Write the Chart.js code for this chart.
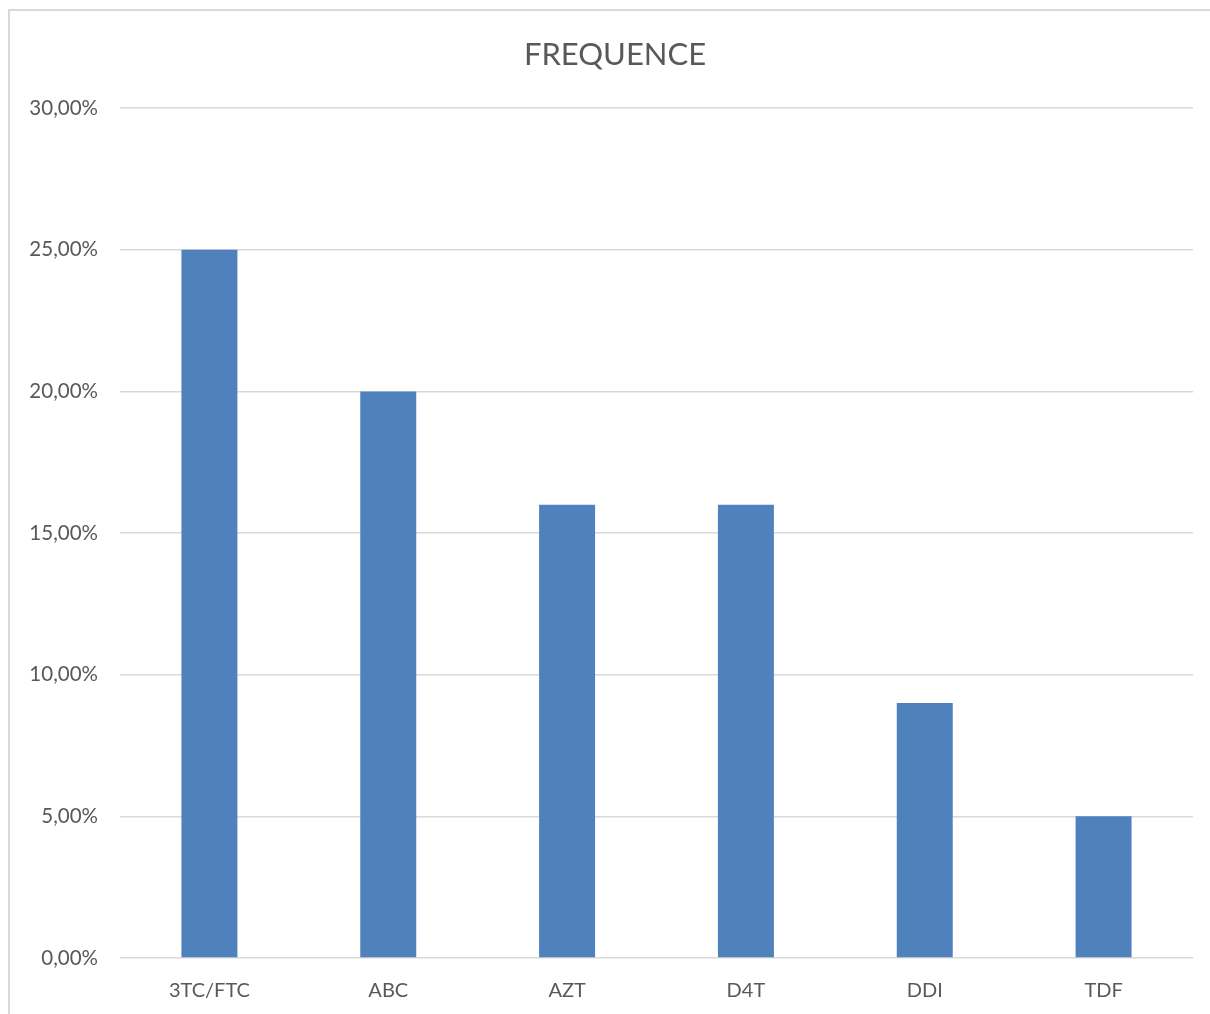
<!DOCTYPE html>
<html>
<head>
<meta charset="utf-8">
<script src="https://cdn.jsdelivr.net/npm/chart.js@4.4.1/dist/chart.umd.min.js"></script>
<style>
    body { margin: 0; background: #fff; }
    #frame {
        position: absolute; left: 8px; top: 9px;
        width: 1210px; height: 1014px;
        border: 2px solid #d9d9d9;
    }
    #wrap { position: absolute; left: 0; top: 0; width: 1210px; height: 1014px; }
</style>
</head>
<body>
<div id="frame"></div>
<div id="wrap"><canvas id="chart" width="1210" height="1014"></canvas></div>
<script>
// 分類與數值（百分比）
const categories = ["3TC/FTC", "ABC", "AZT", "D4T", "DDI", "TDF"];
const frequence = [25, 20, 16, 16, 9, 5];
const yTicks = [0, 5, 10, 15, 20, 25, 30];

const textColor = "#595959";
const gridColor = "#d9d9d9";
const fontFamily = "Lato, 'Liberation Sans', sans-serif";

// 數字用逗號當小數點，例如 25,00%
function formatPercent(value) {
    return value.toFixed(2).replace(".", ",") + "%";
}

// 標題置中在整個外框，而不是只在圖表區
const centerTitle = {
    id: "centerTitle",
    afterLayout(chart) {
        chart.titleBlock.left = 0;
        chart.titleBlock.right = 1230;
    }
};

new Chart(document.getElementById("chart"), {
    type: "bar",
    data: {
        labels: categories,
        datasets: [{
            label: "FREQUENCE",
            data: frequence,
            backgroundColor: "#4F81BD",
            categoryPercentage: 1,
            barPercentage: 0.313
        }]
    },
    plugins: [centerTitle],
    options: {
        responsive: false,
        animation: false,
        layout: { padding: { left: 0, right: 17, top: 0, bottom: 0 } },
        plugins: {
            legend: { display: false },
            tooltip: { enabled: false },
            title: {
                display: true,
                text: "FREQUENCE",
                color: textColor,
                font: { family: fontFamily, size: 31, weight: "normal" },
                padding: { top: 36, bottom: 35 }
            }
        },
        scales: {
            x: {
                grid: { display: false, drawTicks: false },
                border: { display: false },
                ticks: {
                    color: textColor,
                    font: { family: fontFamily, size: 20 },
                    padding: 21
                },
                afterFit: (scale) => { scale.height = 56; }
            },
            y: {
                min: 0,
                max: 30,
                afterBuildTicks: (scale) => {
                    scale.ticks = yTicks.map((v) => ({ value: v }));
                },
                grid: { color: gridColor, lineWidth: 1.5, drawTicks: false },
                border: { display: false },
                ticks: {
                    color: textColor,
                    font: { family: fontFamily, size: 20.5 },
                    padding: 22,
                    callback: (value) => formatPercent(value)
                },
                afterFit: (scale) => { scale.width = 120; }
            }
        }
    }
});
</script>
</body>
</html>
